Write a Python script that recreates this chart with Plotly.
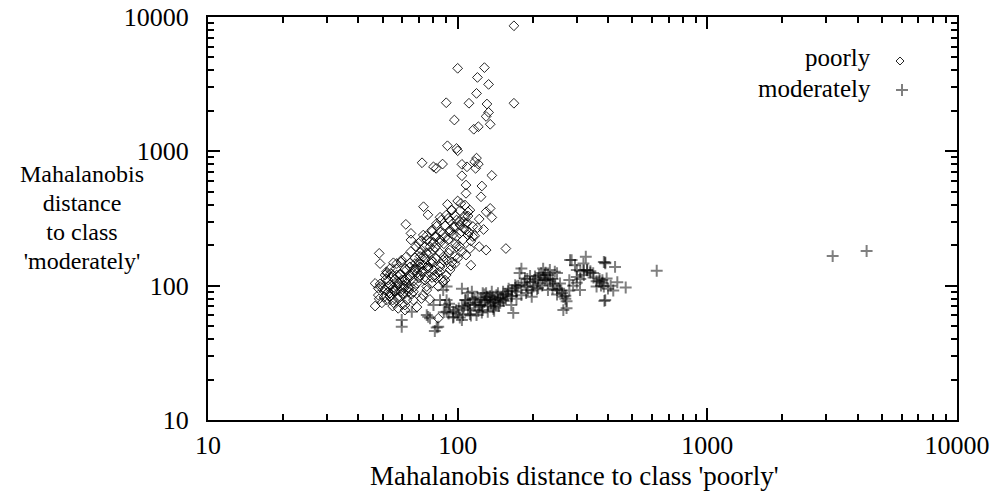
import plotly.graph_objects as go

# Mahalanobis distances of each sample to the two class centroids
poorly_x = [
    168, 100, 128, 120, 133, 119, 90, 111, 131, 168, 133, 130, 97, 135, 121, 116, 91, 99, 100, 119,
    72, 80, 82, 87, 104, 109, 117, 121, 118, 137, 104, 108, 125, 108, 124, 91, 100, 103, 73, 76,
    112, 130, 135, 137, 122, 62, 65, 65, 48.5, 156, 130, 122, 113, 127,
    85, 91.6, 99, 105, 102, 109, 94.8, 96.3, 82.4, 78.7, 87.5, 82, 75.2, 91.6, 99, 108, 115, 102,
    112, 108, 93, 85, 77.5, 71.6, 69.8, 72.8, 70.7, 78.7, 87.5, 97.6, 93.2, 85, 76.3, 70.7, 64.4,
    59.6, 57, 51.9, 54.4, 58.8, 64.4, 68.7, 74, 81.2, 89, 83.6, 75.2, 68.7, 62.4, 57, 52.7, 48.9,
    48.1, 53.6, 60.6, 66.5, 72.8,
    50.3, 52.7, 55.3, 58.8, 60.6, 63.5, 66.5, 68.7, 61.5, 71.6, 75.2, 78.7, 74, 81.2, 85, 90.3,
    87.5, 97.6, 99, 105, 110, 115, 108, 93.2, 85, 80, 72.8, 67.5, 62.4, 57, 53.6, 51.2, 48.9, 46.7,
    55.3, 51.9, 61.5,
    46.7, 48.5, 48.1, 52, 55.3, 53.5, 54.9, 57.8, 77.4, 83.6,
    76, 80, 83, 86, 79, 73, 70, 88, 92, 95, 82, 75, 68, 66, 63, 60, 58, 56, 90, 86, 94, 100, 104,
    98, 88, 80, 78, 73, 71, 67, 64, 61, 59, 102, 96, 106, 111, 113, 117, 120, 110,
    51.2, 48.9, 53.6, 53.6, 51.6, 56.1, 56.1, 58.8, 54, 58.8, 61.5, 56.6, 61.5, 64.4, 59.3,
    64.4, 67.5, 62, 67.5, 70.7, 65, 70.7, 74, 68, 74, 77.5, 71.3, 77.5, 81.2, 75, 81.2, 85, 79,
    85, 89, 82.4, 89, 93, 86, 93, 97.6, 90, 97.6, 102, 94.5, 102, 107, 107, 110,
    52.7, 55.3, 57.8, 60.6, 63.5, 66.5, 57.3, 54.9, 50.7, 49.7, 69.8, 71.9, 75.8, 79.6, 65.5, 62.6, 60,
]
poorly_y = [
    8600, 4150, 4200, 3550, 3150, 2700, 2300, 2280, 2250, 2280, 1950, 1820, 1710, 1590, 1525, 1460, 1100, 1050, 1010, 890,
    822, 767, 747, 804, 800, 767, 837, 804, 747, 662, 658, 561, 552, 487, 459, 403, 427, 410, 387, 337,
    365, 355, 376, 322, 313, 286, 245, 219, 174, 189, 184, 195, 142, 262,
    323, 317, 308, 300, 283, 296, 365, 272, 290, 259, 245, 232, 219, 219, 232, 259, 232, 195,
    189, 169, 184, 175, 195, 184, 207, 238, 165, 155, 155, 146, 131, 127, 135, 138, 138,
    155, 146, 127, 116, 120, 116, 124, 116, 116, 110, 98.6, 98.6, 104, 104, 98.6, 98.6, 98.6,
    85.1, 88, 85.1, 90, 85.1,
    97, 110, 92.7, 82.6, 101, 90, 78.1, 69.3, 71.7, 80.2, 92.7, 104, 110, 120, 138, 155,
    107, 165, 195, 219, 238, 276, 290, 259, 219, 184, 165, 146, 131, 120, 134, 120, 146, 104,
    74.7, 78.1, 65.8,
    70.5, 79.8, 95.5, 124, 148, 82.6, 70.5, 67.8, 79, 57.2,
    140, 130, 125, 145, 115, 128, 150, 165, 175, 150, 160, 175, 135, 125, 112, 110, 104, 92, 120, 113, 140, 160, 180,
    205, 205, 210, 148, 142, 119, 98, 95, 96, 90, 245, 240, 265, 250, 215, 235, 270, 330,
    92.7, 103, 83.5, 101, 112, 91, 112, 99, 123, 122, 110, 134, 133, 120, 150,
    147, 131, 163, 161, 145, 180, 176, 158, 195, 195, 176, 216, 213, 193, 235, 232, 209, 254,
    252, 228, 277, 280, 252, 308, 305, 275, 335, 333, 301, 365, 362, 327, 398, 354,
    90, 97, 106, 88, 97, 108, 81, 78.1, 82.5, 74.5, 114, 127, 135, 150, 86.6, 78, 72.5,
]

moderately_x = [
    59.7, 59.7, 65.5, 76.2, 82.4, 81, 75.2, 77.5, 83.6, 89, 90.3, 93.2, 96.3, 101, 105, 104, 108, 112,
    117, 119, 124, 126, 130, 135, 139, 143, 148, 152, 156, 164, 167, 172, 177, 180, 189, 198, 201, 210,
    216, 223, 234, 241, 250, 265, 273, 282, 300, 319, 326, 309, 349, 360, 390, 385, 390,
    471, 436, 387, 427, 385, 390, 286, 295, 300, 310, 320, 330, 340, 370, 380, 375, 395, 260, 270, 250,
    240, 280,
    115, 118, 122, 125, 128, 131, 133, 136, 138, 140, 142, 145, 150, 153, 120, 110, 106, 100, 96, 92,
    113, 125, 132, 140, 128, 137, 145, 158, 160, 165, 170, 175, 185, 190, 195, 205, 212, 220, 225, 230,
    240, 245, 255, 262, 270, 280, 290, 300, 310, 320, 330, 340, 350, 360, 370, 380, 400, 410, 420, 235,
    218, 208, 198, 188, 180, 172, 165,
    85, 80, 90.3, 87.5, 90.3, 180, 201, 220, 227, 250, 172, 104, 110,
    107, 112, 117, 123, 129, 135, 141, 148, 155, 132, 139, 121, 112, 146, 152, 159, 164, 126, 114,
    104, 98.5, 92.4, 88, 95.8, 102, 110,
    186, 195, 204, 214, 223, 234, 245, 191, 210, 170, 257, 230, 273, 265,
    627, 3177, 4345,
]
moderately_y = [
    55.5, 49.4, 64, 58.6, 48.9, 46, 60.4, 57.2, 49.4, 71.7, 64, 69.3, 58.6, 67.8, 60.4, 55.5, 78.1, 65.8,
    71.7, 60.4, 78.1, 65.8, 88, 78.1, 69.3, 85.1, 74.7, 90, 80.2, 71.7, 62.7, 90, 124, 101, 98.6, 82.6, 107, 113,
    124, 110, 131, 104, 92.7, 82.6, 68, 155, 116, 146, 164, 92.7, 124, 98.6, 149, 98.6, 78.1,
    97, 106, 77, 138, 150, 147, 155, 142, 131, 128, 130, 131, 128, 108, 110, 100, 113, 92, 80, 86,
    95, 110,
    80, 75, 70, 72, 76, 82, 80, 74, 82, 78, 72, 80, 82, 77, 82, 72, 70, 62, 64, 62,
    60, 63, 64, 65, 86, 90, 88, 86, 95, 84, 96, 100, 105, 112, 118, 110, 120, 115, 125, 120,
    112, 100, 95, 88, 84, 92, 100, 105, 112, 120, 130, 125, 115, 108, 112, 105, 95, 100, 92, 108,
    100, 94, 92, 88, 85, 80, 92,
    78.1, 71.7, 78.1, 92.7, 98.6, 134, 98.6, 134, 110, 124, 98.6, 95, 88,
    78.1, 74, 80, 71.7, 78.1, 83.5, 75.5, 80.2, 86.7, 70.5, 67.2, 64.7, 61.5, 70.5, 78.1, 91, 83.5, 88, 90,
    70.5, 65.8, 73.3, 63.5, 58, 58, 68,
    113, 106, 117, 104, 120, 112, 127, 92.7, 96, 101, 104, 92.7, 76.7, 65.8,
    129, 166, 181,
]

tick_vals = [10, 100, 1000, 10000]
tick_text = ["10", "100", "1000", "10000"]
y_title_lines = ["Mahalanobis", "distance", "to class", "'moderately'"]

FONT = "Liberation Serif"
FS = 26

fig = go.Figure()
fig.add_trace(go.Scatter(
    x=poorly_x, y=poorly_y, mode="markers", name="poorly", showlegend=False,
    marker=dict(symbol="diamond-open", size=7.5, color="rgba(0,0,0,0.85)",
                line=dict(width=1, color="rgba(0,0,0,0.85)")),
))
fig.add_trace(go.Scatter(
    x=moderately_x, y=moderately_y, mode="markers", name="moderately", showlegend=False,
    marker=dict(symbol="cross-thin-open", size=8.5, color="rgba(0,0,0,0.5)",
                line=dict(width=2, color="rgba(0,0,0,0.5)")),
))

axis_common = dict(
    type="log", range=[1, 4], tickvals=tick_vals, ticktext=tick_text,
    ticks="inside", ticklen=12, tickwidth=2, tickcolor="black",
    minor=dict(ticks="inside", ticklen=6, tickwidth=2, tickcolor="black", dtick="D1", showgrid=False),
    showline=True, linewidth=2, linecolor="black", mirror="allticks",
    showgrid=False, zeroline=False, automargin=False,
    tickfont=dict(family=FONT, size=FS, color="black"),
)

fig.update_layout(
    width=995, height=493,
    margin=dict(l=208, r=38, t=17, b=73),
    paper_bgcolor="white", plot_bgcolor="white",
    xaxis=dict(**axis_common, ticklabelstandoff=1),
    yaxis=dict(**axis_common, ticklabelstandoff=12),
    font=dict(family=FONT, size=FS, color="black"),
)

# x-axis title
fig.add_annotation(
    text="Mahalanobis distance to class 'poorly'", xref="paper", yref="paper",
    x=(574 - 208) / 749, y=(420 - 476) / 403, xanchor="center", yanchor="middle",
    showarrow=False, font=dict(family=FONT, size=FS + 1, color="black"),
)
# y-axis title: base size sets the line pitch, spans set the glyph size
fig.add_annotation(
    text="<br>".join(f'<span style="font-size:24px">{s}</span>' for s in y_title_lines),
    xref="paper", yref="paper",
    x=(82 - 208) / 749, y=1 - (217 - 17) / 403, xanchor="center", yanchor="middle",
    align="center", showarrow=False, font=dict(family=FONT, size=22.3, color="black"),
)

# key: text on the left, symbol on the right
for label, py in [("poorly", 58), ("moderately", 88)]:
    fig.add_annotation(
        text=label, xref="paper", yref="paper",
        x=(873 - 208) / 749, y=1 - (py - 17) / 403, xanchor="right", yanchor="middle",
        showarrow=False, font=dict(family=FONT, size=25, color="black"),
    )

fig.add_shape(
    type="path", xref="paper", yref="paper", xsizemode="pixel", ysizemode="pixel",
    xanchor=(900 - 208) / 749, yanchor=1 - (61 - 17) / 403,
    path="M -4 0 L 0 4 L 4 0 L 0 -4 Z",
    line=dict(color="rgba(0,0,0,0.85)", width=1),
)
fig.add_shape(
    type="path", xref="paper", yref="paper", xsizemode="pixel", ysizemode="pixel",
    xanchor=(902 - 208) / 749, yanchor=1 - (90 - 17) / 403,
    path="M -6 0 L 6 0 M 0 -6 L 0 6",
    line=dict(color="rgba(0,0,0,0.5)", width=2),
)

fig.write_html("out.html")
